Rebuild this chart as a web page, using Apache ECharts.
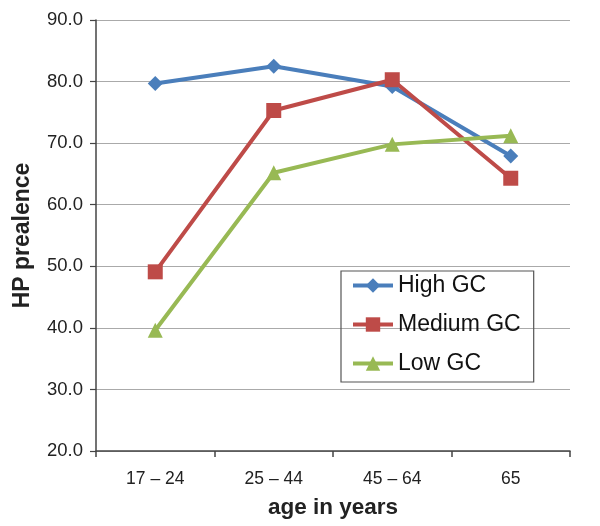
<!DOCTYPE html>
<html>
<head>
<meta charset="utf-8">
<script src="https://cdn.jsdelivr.net/npm/echarts@6/dist/echarts.min.js"></script>
<style>html,body{margin:0;padding:0;background:#fff;}#chart{width:600px;height:526px;}</style>
</head>
<body>
<div id="chart"></div>
<script>
const categories = ['17 – 24', '25 – 44', '45 – 64', '65'];
const highGC = [79.7, 82.5, 79.2, 67.9];
const mediumGC = [49.1, 75.3, 80.3, 64.3];
const lowGC = [39.6, 65.2, 69.8, 71.2];
const seriesNames = ['High GC', 'Medium GC', 'Low GC'];

const chart = echarts.init(document.getElementById('chart'));
const font = 'Liberation Sans, Arial, sans-serif';
function line(name, data, color, symbol, size) {
  return {
    name, type: 'line', data, symbol, symbolSize: size,
    lineStyle: { color, width: 4 },
    itemStyle: { color },
    emphasis: { disabled: true }
  };
}
chart.setOption({
  animation: false,
  textStyle: { fontFamily: font },
  grid: { left: 96, right: 30, top: 20, bottom: 75 },
  legend: {
    orient: 'vertical', left: 341, top: 271,
    padding: [3, 13, 7, 10],
    itemWidth: 40, itemHeight: 18, itemGap: 16,
    borderColor: '#555', borderWidth: 1.2,
    lineStyle: { width: 4 },
    textStyle: { fontSize: 23, color: '#111', fontFamily: font },
    data: seriesNames
  },
  xAxis: {
    type: 'category', data: categories, boundaryGap: true,
    name: 'age in years', nameLocation: 'middle', nameGap: 45,
    nameTextStyle: { fontSize: 22.5, fontWeight: 'bold', color: '#222', fontFamily: font },
    axisLine: { lineStyle: { color: '#444', width: 1.5 } },
    axisTick: { show: true, length: 6, lineStyle: { color: '#444', width: 1.5 } },
    axisLabel: { fontSize: 17.5, color: '#222', margin: 19 }
  },
  yAxis: {
    type: 'value', min: 20, max: 90, interval: 10,
    name: 'HP prealence', nameLocation: 'middle', nameGap: 62,
    nameTextStyle: { fontSize: 23, fontWeight: 'bold', color: '#222', fontFamily: font },
    axisLine: { show: true, lineStyle: { color: '#444', width: 1.5 } },
    axisTick: { show: true, length: 6, lineStyle: { color: '#444', width: 1.2 } },
    axisLabel: { fontSize: 18.5, color: '#222', margin: 13, formatter: v => v.toFixed(1) },
    splitLine: { lineStyle: { color: '#aaa', width: 1.2 } }
  },
  series: [
    line(seriesNames[0], highGC, '#4a7ebb', 'diamond', 15),
    line(seriesNames[1], mediumGC, '#be4b48', 'rect', 15),
    line(seriesNames[2], lowGC, '#98b954', 'triangle', 15)
  ]
});
</script>
</body>
</html>
